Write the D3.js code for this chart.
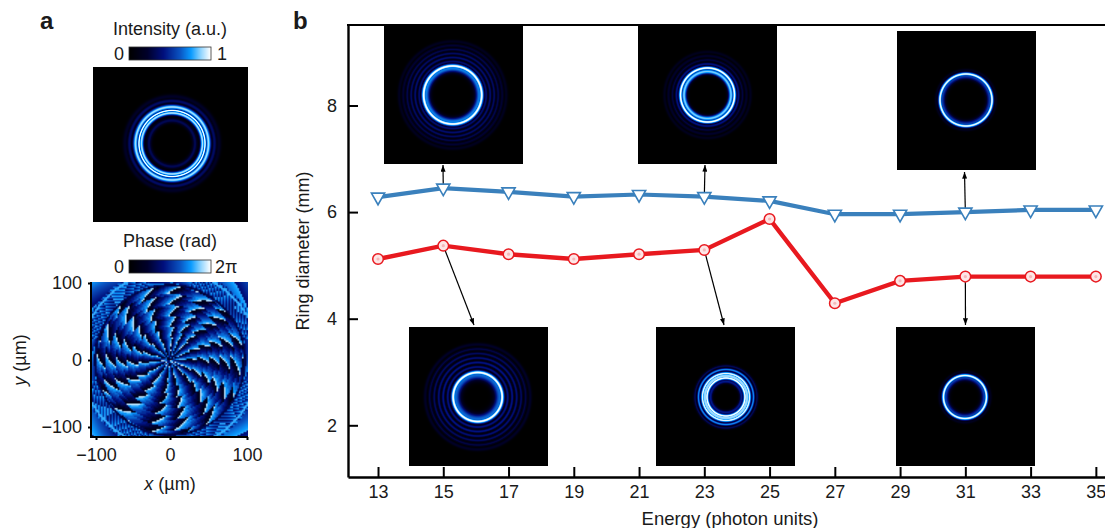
<!DOCTYPE html>
<html>
<head>
<meta charset="utf-8">
<script src="https://cdn.jsdelivr.net/npm/d3@7"></script>
<style>
  html, body { margin: 0; padding: 0; background: #fff; }
  svg { display: block; }
  text { font-family: "Liberation Sans", Arial, sans-serif; fill: #1a1a1a; }
  .axis text { font-size: 18px; }
  .axis line { stroke: #000; stroke-width: 2px; }
  .axis path { stroke: #000; stroke-width: 2.4px; }
</style>
</head>
<body>
<svg id="svg" width="1105" height="528"></svg>
<script>
// ring diameter vs energy
const energy = [13, 15, 17, 19, 21, 23, 25, 27, 29, 31, 33, 35];
const blueValues = [6.28, 6.45, 6.38, 6.29, 6.33, 6.29, 6.21, 5.96, 5.96, 6.0, 6.04, 6.04];
const redValues = [5.12, 5.37, 5.21, 5.12, 5.21, 5.29, 5.87, 4.29, 4.71, 4.79, 4.79, 4.79];
const yTicks = [2, 4, 6, 8];
const mapTicks = [-100, 0, 100];

// intensity profiles, each ring is [radius, sigma, amplitude]
const ringsMain = [[33, 1.1, 1], [30.5, 1.7, 0.91], [36.5, 2, 0.9], [23, 1.8, 0.32], [42.5, 1.7, 0.36], [47, 1.6, 0.2]];
const ringsTop1 = [[29, 1.8, 1], [26.5, 2.8, 0.7], [33.5, 1.2, 0.38], [37.5, 1.2, 0.38], [41.5, 1.2, 0.35], [45.5, 1.2, 0.3], [49.5, 1.2, 0.24], [53.5, 1.2, 0.16]];
const ringsTop2 = [[27, 1.5, 1], [23.5, 2, 0.86], [31, 1.2, 0.42], [35, 1.1, 0.27], [39, 1.1, 0.22], [43, 1.1, 0.15]];
const ringsTop3 = [[26, 1.5, 0.98], [24, 2.4, 0.55], [30, 1, 0.15]];
const ringsBot1 = [[24.5, 1.8, 1], [22, 3.6, 0.66], [30, 1.2, 0.42], [34.5, 1.2, 0.43], [39, 1.2, 0.39], [43.5, 1.2, 0.34], [48, 1.2, 0.28], [52.5, 1.2, 0.2]];
const ringsBot2 = [[19, 1.4, 1], [23.5, 1.4, 0.97], [21, 3.2, 0.9], [27.5, 1.1, 0.72], [31, 1.1, 0.32], [15.5, 1.5, 0.45]];
const ringsBot3 = [[21.5, 1.5, 0.98], [19.5, 2.4, 0.55], [25.5, 1, 0.15]];

// phase map: clockwise angle (deg from up) of each jump, near the centre and at the tip
const armMid = [4, 24, 43, 66, 88, 114, 136, 165, 187, 215, 240, 264, 286, 311, 336];
const armTip = [5, 29, 50, 74, 95, 121, 144, 170, 192, 222, 248, 271, 293, 318, 342];

// layout of the pictures
const insets = [
  {x: 384, y: 25, rings: ringsTop1, cx: 68.7, cy: 70},
  {x: 638, y: 25, rings: ringsTop2, cx: 69.5, cy: 70},
  {x: 897, y: 31, rings: ringsTop3, cx: 69, cy: 69},
  {x: 409, y: 327, rings: ringsBot1, cx: 68.7, cy: 70},
  {x: 656, y: 327, rings: ringsBot2, cx: 70, cy: 70},
  {x: 896, y: 327, rings: ringsBot3, cx: 69, cy: 70}
];
const arrows = [
  {i: 1, s: blueValues, x2: 443, y2: 165},
  {i: 5, s: blueValues, x2: 705, y2: 165},
  {i: 9, s: blueValues, x2: 964.5, y2: 172},
  {i: 1, s: redValues, x2: 474, y2: 325},
  {i: 5, s: redValues, x2: 724, y2: 325},
  {i: 9, s: redValues, x2: 965.5, y2: 325}
];

const svg = d3.select("#svg");

const cmap = d3.scaleLinear()
  .domain([0, 0.22, 0.42, 0.62, 0.76, 0.88, 1])
  .range(["#000000", "#00002a", "#000f7c", "#0a52c0", "#0a9bff", "#8fd4ff", "#ffffff"])
  .clamp(true);

function toImage(w, h, fn) {
  const c = document.createElement("canvas");
  c.width = w;
  c.height = h;
  const ctx = c.getContext("2d");
  const img = ctx.createImageData(w, h);
  for (let j = 0; j < h; j++) {
    for (let i = 0; i < w; i++) {
      const col = d3.rgb(cmap(fn(i, j)));
      const k = (j * w + i) * 4;
      img.data[k] = col.r;
      img.data[k + 1] = col.g;
      img.data[k + 2] = col.b;
      img.data[k + 3] = 255;
    }
  }
  ctx.putImageData(img, 0, 0);
  return c.toDataURL();
}

function ringImage(size, rings, cx, cy) {
  return toImage(size, size, function (i, j) {
    const r = Math.hypot(i + 0.5 - cx, j + 0.5 - cy);
    let v = 0;
    rings.forEach(function (g) {
      v = Math.max(v, g[2] * Math.exp(-Math.pow(r - g[0], 2) / (2 * g[1] * g[1])));
    });
    return v;
  });
}

function frac(v) { return v - Math.floor(v); }

function phaseImage() {
  const n = 104, cell = 1.5;
  const cx = 78, cy = 78;
  return toImage(n, n, function (i, j) {
    const dx = (i + 0.5) * cell - cx, dy = (j + 0.5) * cell - cy;
    const r = Math.hypot(dx, dy);
    const a = (Math.atan2(dx, -dy) * 180 / Math.PI + 360) % 360;
    const diag = Math.abs(Math.cos((a - 135) * Math.PI / 90)) > 0.5;
    if (r > 92) return 0.38 + 0.42 * frac(r / 24 + a / 50);
    if (Math.abs(r - 75) < 1) return 0.3;
    if (Math.abs(r - 89) < 1) return 0.8;
    if (r > 74) {
      if (diag) return 0.34 + 0.46 * frac(a / 3.4 + r / 4);
      return 0.4 + 0.35 * frac(r / 6 + a / 25);
    }
    // sector between two phase jumps, edges stepped like the picture
    const edge = function (k) {
      const b = r < 30 ? armMid[k] : armMid[k] + (armTip[k] - armMid[k]) * (r - 30) / 42;
      return b + (frac(r / 11 + k * 0.37) - 0.5) * (1 + r / 5);
    };
    const m = armTip.length;
    let t = 0;
    for (let k = 0; k < m; k++) {
      const b0 = edge(k), b1 = k === m - 1 ? edge(0) + 360 : edge(k + 1);
      const aa = a < b0 ? a + 360 : a;
      if (aa >= b0 && aa < b1) { t = (aa - b0) / (b1 - b0); break; }
      if (k === m - 1) { t = (a + 360 - b0) / (b1 - b0); }
    }
    if (t > 0.94) return 0.93;
    return 0.12 + 0.7 * Math.floor(t * 10) / 9;
  });
}

// panel b scales
const x = d3.scaleLinear().domain([12.08, 35.28]).range([348, 1105]);
const y = d3.scaleLinear().domain([1.03, 9.51]).range([477, 25]);

const xAxis = d3.axisBottom(x).tickValues(energy).tickSizeInner(-10).tickSizeOuter(0).tickPadding(8);
const yAxis = d3.axisLeft(y).tickValues(yTicks).tickSizeInner(-10).tickSizeOuter(0).tickPadding(11);

svg.append("g").attr("class", "axis").attr("transform", "translate(0,477)").call(xAxis);
svg.append("g").attr("class", "axis").attr("transform", "translate(348,0)").call(yAxis);
svg.append("line").attr("x1", 347).attr("x2", 1105).attr("y1", 25).attr("y2", 25)
  .attr("stroke", "#000").attr("stroke-width", 2);

svg.selectAll("image.inset")
  .data(insets)
  .enter()
  .append("image")
  .attr("class", "inset")
  .attr("x", d => d.x)
  .attr("y", d => d.y)
  .attr("width", 139)
  .attr("height", 139)
  .attr("href", d => ringImage(139, d.rings, d.cx, d.cy));

// arrows go under the markers
svg.append("defs").append("marker")
  .attr("id", "head")
  .attr("viewBox", "0 0 8 6")
  .attr("refX", 8)
  .attr("refY", 3)
  .attr("markerUnits", "userSpaceOnUse")
  .attr("markerWidth", 7)
  .attr("markerHeight", 5)
  .attr("orient", "auto")
  .append("path")
  .attr("d", "M0,0L8,3L0,6Z")
  .attr("fill", "#000");

svg.selectAll("line.arrow")
  .data(arrows)
  .enter()
  .append("line")
  .attr("class", "arrow")
  .attr("x1", d => x(energy[d.i]))
  .attr("y1", d => y(d.s[d.i]))
  .attr("x2", d => d.x2)
  .attr("y2", d => d.y2)
  .attr("stroke", "#000")
  .attr("stroke-width", 1.2)
  .attr("marker-end", "url(#head)");

const line = d3.line().x((d, i) => x(energy[i])).y(d => y(d));

svg.append("path").datum(blueValues).attr("d", line)
  .attr("fill", "none").attr("stroke", "#3a80bc").attr("stroke-width", 4.2);
svg.append("path").datum(redValues).attr("d", line)
  .attr("fill", "none").attr("stroke", "#e8191f").attr("stroke-width", 4.4);

svg.selectAll("path.tri")
  .data(blueValues)
  .enter()
  .append("path")
  .attr("class", "tri")
  .attr("d", "M-6.6,-4L6.6,-4L0,7.6Z")
  .attr("transform", (d, i) => "translate(" + x(energy[i]) + "," + y(d) + ")")
  .attr("fill", "#fff")
  .attr("stroke", "#3a80bc")
  .attr("stroke-width", 1.6);

svg.selectAll("circle.dot")
  .data(redValues)
  .enter()
  .append("circle")
  .attr("class", "dot")
  .attr("cx", (d, i) => x(energy[i]))
  .attr("cy", d => y(d))
  .attr("r", 5.3)
  .attr("fill", "#fde6e6")
  .attr("stroke", "#e8191f")
  .attr("stroke-width", 1.5);
svg.selectAll("circle.core")
  .data(redValues)
  .enter()
  .append("circle")
  .attr("class", "core")
  .attr("cx", (d, i) => x(energy[i]))
  .attr("cy", d => y(d))
  .attr("r", 1.6)
  .attr("fill", "#f5b8ba");

svg.append("text").attr("x", 730).attr("y", 525).attr("text-anchor", "middle")
  .style("font-size", "18.5px").text("Energy (photon units)");
svg.append("text").attr("transform", "translate(309,251) rotate(-90)").attr("text-anchor", "middle")
  .style("font-size", "18px").text("Ring diameter (mm)");

// panel a
svg.append("image").attr("x", 93).attr("y", 67).attr("width", 155).attr("height", 155)
  .attr("href", ringImage(155, ringsMain, 79, 76.5));
svg.append("image").attr("x", 92).attr("y", 282).attr("width", 156).attr("height", 156)
  .attr("href", phaseImage());

const mapX = d3.scaleLinear().domain([-100, 0, 100]).range([96, 170, 247]);
const mapY = d3.scaleLinear().domain([-100, 0, 100]).range([427, 360, 283]);

const gx = svg.append("g").attr("class", "axis").attr("transform", "translate(0,437)")
  .call(d3.axisBottom(mapX).tickValues(mapTicks).tickSizeInner(3).tickSizeOuter(0).tickPadding(8));
const gy = svg.append("g").attr("class", "axis").attr("transform", "translate(91,0)")
  .call(d3.axisLeft(mapY).tickValues(mapTicks).tickSizeInner(3).tickSizeOuter(0).tickPadding(6));
gx.select(".domain").remove();
gy.select(".domain").remove();
svg.append("line").attr("x1", 90).attr("x2", 248).attr("y1", 437).attr("y2", 437).attr("stroke", "#000").attr("stroke-width", 2);
svg.append("line").attr("x1", 91).attr("x2", 91).attr("y1", 282).attr("y2", 438).attr("stroke", "#000").attr("stroke-width", 2);

const xLab = svg.append("text").attr("x", 170).attr("y", 490).attr("text-anchor", "middle").style("font-size", "18px");
xLab.append("tspan").style("font-style", "italic").text("x");
xLab.append("tspan").text(" (µm)");
const yLab = svg.append("text").attr("transform", "translate(26,360) rotate(-90)").attr("text-anchor", "middle").style("font-size", "18px");
yLab.append("tspan").style("font-style", "italic").text("y");
yLab.append("tspan").text(" (µm)");

// colour bars
const bars = [
  {title: "Intensity (a.u.)", titleY: 35, y: 47, hi: "1", hiX: 217},
  {title: "Phase (rad)", titleY: 247, y: 260, hi: "2π", hiX: 215}
];
const barImg = toImage(82, 1, i => i / 81);
bars.forEach(function (b) {
  svg.append("text").attr("x", 170).attr("y", b.titleY).attr("text-anchor", "middle").style("font-size", "18px").text(b.title);
  svg.append("image").attr("x", 129).attr("y", b.y).attr("width", 82).attr("height", 13)
    .attr("preserveAspectRatio", "none").attr("href", barImg);
  svg.append("rect").attr("x", 129).attr("y", b.y).attr("width", 82).attr("height", 13)
    .attr("fill", "none").attr("stroke", "#333").attr("stroke-width", 0.8);
  svg.append("text").attr("x", 124).attr("y", b.y + 13).attr("text-anchor", "end").style("font-size", "18px").text("0");
  svg.append("text").attr("x", b.hiX).attr("y", b.y + 13).style("font-size", "18px").text(b.hi);
});

svg.append("text").attr("x", 40).attr("y", 29).style("font-size", "24px").style("font-weight", "bold").text("a");
svg.append("text").attr("x", 293).attr("y", 29).style("font-size", "24px").style("font-weight", "bold").text("b");
</script>
</body>
</html>
